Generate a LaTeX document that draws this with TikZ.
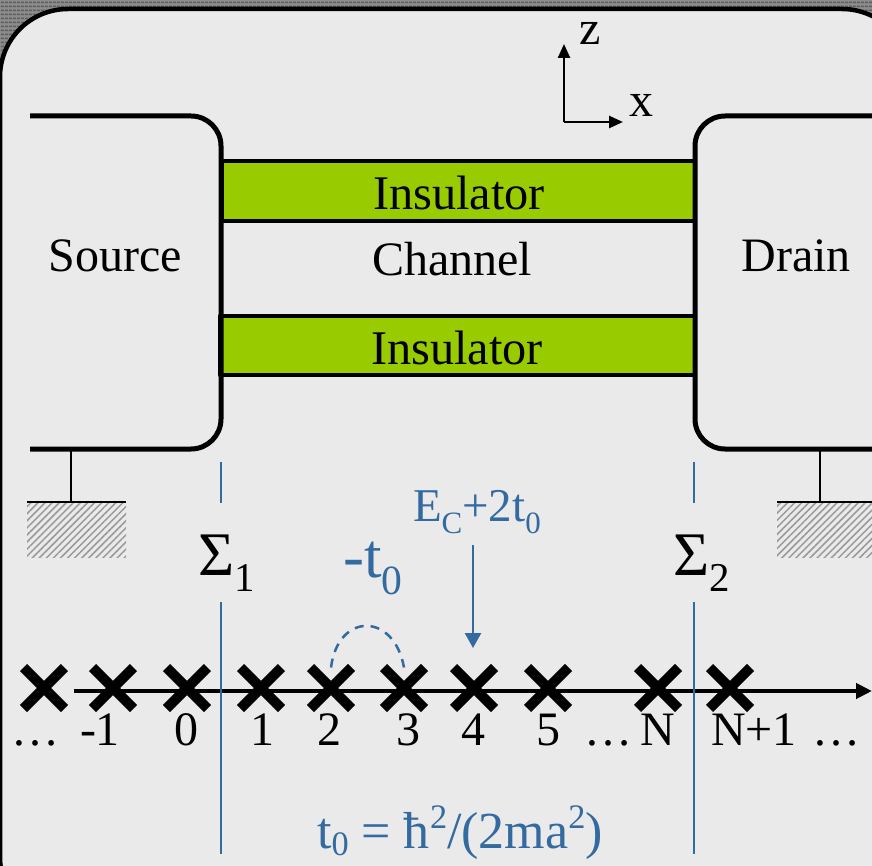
\documentclass[tikz,border=0pt]{standalone}
\usepackage{fontspec}
\setmainfont{Liberation Serif}
\usetikzlibrary{patterns.meta,shapes.misc,arrows.meta}
\definecolor{panelgray}{HTML}{EAEAEA}
\definecolor{stripegray}{HTML}{5E5E5E}
\definecolor{oxgreen}{HTML}{99CC00}
\definecolor{labelblue}{HTML}{336A9F}
\newcommand{\lowtxt}[1]{\raisebox{-0.27em}{\scalebox{0.66}{#1}}}
\newcommand{\hightxt}[1]{\raisebox{0.38em}{\scalebox{0.66}{#1}}}
\tikzset{
    txt/.style={anchor=base, inner sep=0pt, font=\fontsize{48}{50}\selectfont},
    bluetxt/.style={txt, text=labelblue},
    sitemark/.style={cross out, draw, line width=10pt, minimum size=31pt, inner sep=0pt},
    contact/.style={line width=5pt, rounded corners=30pt},
    oxide/.style={draw, fill=oxgreen, line width=4.5pt},
    hatched/.style={pattern={Lines[angle=45, distance=5pt, line width=1.5pt]}, pattern color=black!40},
    cutline/.style={labelblue, line width=1.8pt}
}
\begin{document}
\begin{tikzpicture}[x=1pt,y=-1pt, >={Triangle[length=14pt,width=12pt]}, line join=round]
    \useasboundingbox (0,0) rectangle (872,866);
    \clip (0,0) rectangle (872,866);
    % slide background and panel
    \fill[black!45] (0,0) rectangle (872,866);
    \fill[pattern={Lines[angle=0, distance=4pt, line width=2pt]}, pattern color=stripegray] (0,0) rectangle (872,866);
    \draw[fill=panelgray, line width=4.5pt, rounded corners=68pt] (0,9) rectangle (910,925);
    % device
    \draw[oxide] (222,161) rectangle (695,221);
    \draw[oxide] (220,316) rectangle (695,375);
    \draw[contact] (30,116) -- (221,116) -- (221,449) -- (30,449);
    \draw[contact] (880,116) -- (695,116) -- (695,449) -- (880,449);
    \node[txt] (source) at (115,272) {Source};
    \node[txt] (drain) at (796,272) {Drain};
    \node[txt] (channel) at (452,276) {Channel};
    \node[txt, font=\fontsize{48.3}{50}\selectfont] (insulatortop) at (459,210) {Insulator};
    \node[txt, font=\fontsize{48.3}{50}\selectfont] (insulatorbot) at (457,364) {Insulator};
    % axes
    \coordinate (origin) at (564,122);
    \coordinate (ztip) at (564,44);
    \coordinate (xtip) at (623,122);
    \draw[->, line width=2.5pt] (origin) -- (ztip);
    \draw[->, line width=2.5pt] (origin) -- (xtip);
    \node[txt] (zlabel) at (590,45) {z};
    \node[txt] (xlabel) at (641,117) {x};
    % grounds
    \fill[hatched] (27,503) rectangle (126,557);
    \fill[hatched] (777,503) rectangle (872,557);
    \coordinate (gndl) at (71,449);
    \coordinate (gndla) at (71,502);
    \coordinate (gndr) at (820,449);
    \coordinate (gndra) at (820,502);
    \draw[line width=2pt] (gndl) -- (gndla);
    \draw[line width=2pt] (gndr) -- (gndra);
    \draw[line width=2pt] (27,502) -- (126,502);
    \draw[line width=2pt] (777,502) -- (872,502);
    % lattice
    \coordinate (axisl) at (74,691);
    \coordinate (axisr) at (872,691);
    \draw[-{Triangle[length=16pt,width=15pt]}, line width=4pt] (axisl) -- (axisr);
    \node[sitemark] (sm) at (44,688) {};
    \node[sitemark] (sa) at (113,688) {};
    \node[sitemark] (sb) at (187,688) {};
    \node[sitemark] (sc) at (261,688) {};
    \node[sitemark] (sd) at (331,688) {};
    \node[sitemark] (se) at (404,688) {};
    \node[sitemark] (sf) at (474,688) {};
    \node[sitemark] (sg) at (548,688) {};
    \node[sitemark] (sh) at (658,688) {};
    \node[sitemark] (si) at (730,688) {};
    \node[txt] (dotsa) at (35,745) {\dots};
    \node[txt] (la) at (100,745) {-1};
    \node[txt] (lb) at (186,745) {0};
    \node[txt] (lc) at (262,745) {1};
    \node[txt] (ld) at (329,745) {2};
    \node[txt] (le) at (408,745) {3};
    \node[txt] (lf) at (473,745) {4};
    \node[txt] (lg) at (548,745) {5};
    \node[txt] (dotsb) at (608,745) {\dots};
    \node[txt] (lh) at (658,745) {N};
    \node[txt] (li) at (754,745) {N+1};
    \node[txt] (dotsc) at (836,745) {\dots};
    % contact planes
    \draw[cutline] (221,462) -- (221,503);
    \draw[cutline] (221,602) -- (221,854);
    \draw[cutline] (694,462) -- (694,503);
    \draw[cutline] (694,602) -- (694,854);
    \node[txt, font=\fontsize{62}{64}\selectfont] (sigmaa) at (227,575) {Σ\lowtxt{1}};
    \node[txt, font=\fontsize{62}{64}\selectfont] (sigmab) at (702,575) {Σ\lowtxt{2}};
    % hopping and on-site energy
    \draw[labelblue, line width=2.5pt, dash pattern=on 9pt off 7pt] (sd.north) .. controls (338,612) and (394,612) .. (se.north);
    \node[bluetxt, font=\fontsize{63}{64}\selectfont] (hop) at (373,577) {-t\lowtxt{0}};
    \node[bluetxt, font=\fontsize{47}{49}\selectfont] (onsite) at (477,521) {E\lowtxt{C}+2t\lowtxt{0}};
    \coordinate (onsitea) at (473,545);
    \coordinate (onsiteb) at (473,648);
    \draw[-{Triangle[length=15pt,width=16pt]}, labelblue, line width=2.5pt] (onsitea) -- (onsiteb);
    \node[bluetxt, font=\fontsize{52}{54}\selectfont] (hopdef) at (460,848) {t\raisebox{-0.15em}{\scalebox{0.66}{0}} = ħ\hightxt{2}/(2ma\hightxt{2})};
\end{tikzpicture}
\end{document}
